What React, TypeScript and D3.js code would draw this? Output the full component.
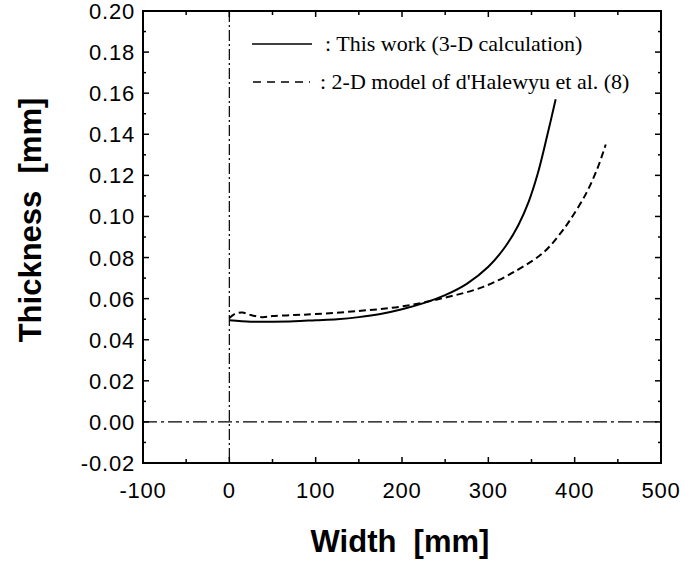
import React from "react";
import * as d3 from "d3";

const xDomain = [-100, 500];
const yDomain = [-0.02, 0.2];
const xTicks = [-100, 0, 100, 200, 300, 400, 500];
const yTicks = [-0.02, 0, 0.02, 0.04, 0.06, 0.08, 0.1, 0.12, 0.14, 0.16, 0.18, 0.2];

const solidX = [0, 25, 50, 75, 100, 125, 150, 175, 200, 225, 250, 275, 300, 320, 335, 347, 357, 368, 378];
const solidY = [0.0495, 0.0488, 0.0488, 0.049, 0.0495, 0.05, 0.051, 0.0525, 0.0548, 0.0578, 0.0617, 0.0672, 0.0755, 0.0855, 0.096, 0.1075, 0.1205, 0.139, 0.157];

const dashX = [0, 6, 15, 25, 38, 50, 75, 100, 150, 200, 250, 294, 334, 364, 383, 395, 413, 426, 436];
const dashY = [0.0505, 0.0525, 0.0532, 0.052, 0.051, 0.0515, 0.052, 0.0525, 0.054, 0.0562, 0.0605, 0.0657, 0.074, 0.0825, 0.0915, 0.0985, 0.111, 0.123, 0.135];

const legendLabels = [": This work (3-D calculation)", ": 2-D model of d'Halewyu et al. (8)"];

export default function App() {
  const x = d3.scaleLinear().domain(xDomain).range([143, 661]);
  const y = d3.scaleLinear().domain(yDomain).range([463, 11]);
  const line = d3
    .line<[number, number]>()
    .x((d) => x(d[0]))
    .y((d) => y(d[1]))
    .curve(d3.curveCatmullRom.alpha(0.5));
  const solid = solidX.map((v, i) => [v, solidY[i]] as [number, number]);
  const dashed = dashX.map((v, i) => [v, dashY[i]] as [number, number]);

  const yMinor = d3.range(-20, 201, 10).map((v) => v / 1000);
  const xMinor = d3.range(-100, 501, 50);
  const [x0, x1] = x.range();
  const [y0, y1] = y.range();
  const axisFont = "Liberation Sans, Arial, sans-serif";
  const serif = "Liberation Serif, Times New Roman, serif";

  return (
    <svg width={685} height={561} style={{ position: "absolute", left: 0, top: 0, background: "#fff" }}>
      {/* frame */}
      <rect x={x0} y={y1} width={x1 - x0} height={y0 - y1} fill="none" stroke="#000" strokeWidth={2} />
      {/* ticks */}
      {yMinor.map((v, i) => {
        const major = Math.round(v * 1000) % 20 === 0;
        const len = major ? 6 : 3;
        return (
          <g key={"yt" + i}>
            <line x1={x0} x2={x0 + len} y1={y(v)} y2={y(v)} stroke="#000" strokeWidth={1.5} />
            <line x1={x1} x2={x1 - len} y1={y(v)} y2={y(v)} stroke="#000" strokeWidth={1.5} />
          </g>
        );
      })}
      {xMinor.map((v, i) => {
        const major = v % 100 === 0;
        const len = major ? 6 : 4;
        return (
          <g key={"xt" + i}>
            <line x1={x(v)} x2={x(v)} y1={y0} y2={y0 - len} stroke="#000" strokeWidth={1.5} />
            <line x1={x(v)} x2={x(v)} y1={y1} y2={y1 + len} stroke="#000" strokeWidth={1.5} />
          </g>
        );
      })}
      {/* dash-dot reference lines */}
      <line x1={x(0)} x2={x(0)} y1={y1} y2={y0} stroke="#000" strokeWidth={1.2} strokeDasharray="11 3 2 3" />
      <line x1={x0} x2={x1} y1={y(0)} y2={y(0)} stroke="#000" strokeWidth={1.3} strokeDasharray="14 4 3 4" />
      {/* tick labels */}
      {yTicks.map((v, i) => (
        <text key={"yl" + i} x={135} y={y(v) + 8} textAnchor="end" fontFamily={axisFont} fontSize={22} letterSpacing={0.8} fill="#000">
          {v.toFixed(2)}
        </text>
      ))}
      {xTicks.map((v, i) => (
        <text key={"xl" + i} x={x(v)} y={498} textAnchor="middle" fontFamily={axisFont} fontSize={22} letterSpacing={0.8} fill="#000">
          {v}
        </text>
      ))}
      {/* axis titles */}
      <text x={400} y={552} textAnchor="middle" fontFamily={axisFont} fontWeight="bold" fontSize={31} fill="#000" style={{ whiteSpace: "pre" }}>
        {"Width  [mm]"}
      </text>
      <text transform="translate(41,220) rotate(-90)" textAnchor="middle" fontFamily={axisFont} fontWeight="bold" fontSize={31} fill="#000" style={{ whiteSpace: "pre" }}>
        {"Thickness  [mm]"}
      </text>
      {/* curves */}
      <path d={line(solid) || ""} fill="none" stroke="#000" strokeWidth={2} />
      <path d={line(dashed) || ""} fill="none" stroke="#000" strokeWidth={2} strokeDasharray="7 4" />
      {/* legend */}
      <line x1={252} x2={312} y1={44} y2={44} stroke="#000" strokeWidth={1.5} />
      <text x={325} y={51} fontFamily={serif} fontSize={22} fill="#000">
        {legendLabels[0]}
      </text>
      <line x1={253} x2={310} y1={82} y2={82} stroke="#000" strokeWidth={1.5} strokeDasharray="8 6" />
      <text x={320} y={89} fontFamily={serif} fontSize={22} fill="#000">
        {legendLabels[1]}
      </text>
    </svg>
  );
}
